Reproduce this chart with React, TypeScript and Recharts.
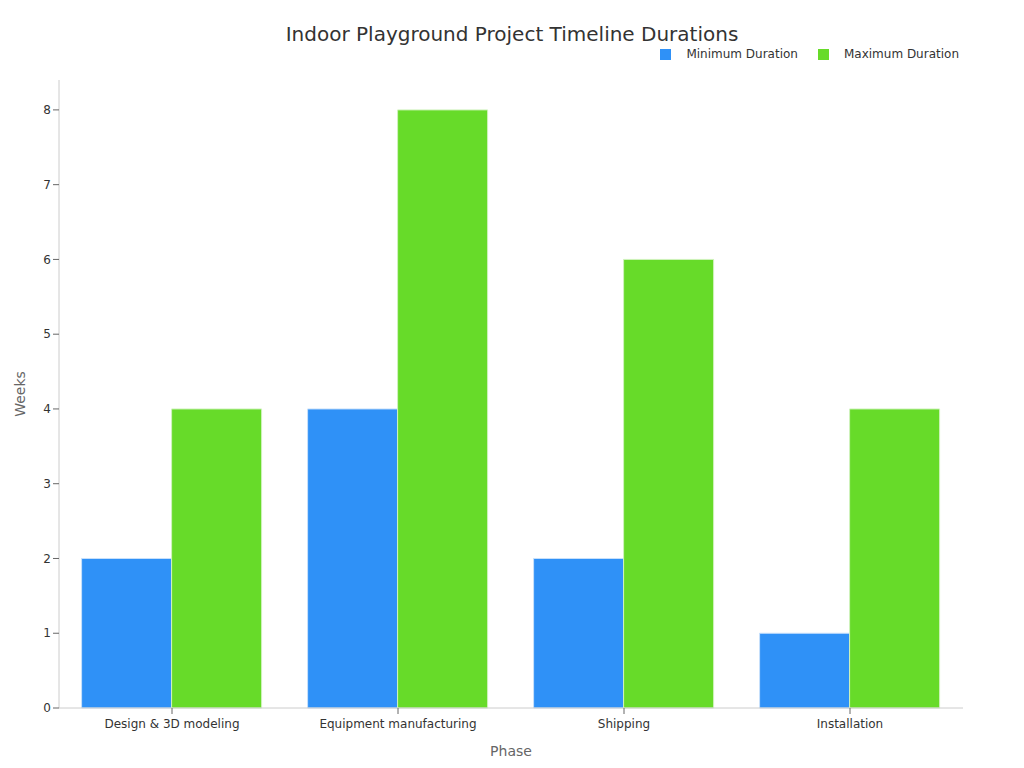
import { BarChart, Bar, XAxis, YAxis } from 'recharts'

const phases = ['Design & 3D modeling', 'Equipment manufacturing', 'Shipping', 'Installation']
const minWeeks = [2, 4, 2, 1]
const maxWeeks = [4, 8, 6, 4]
const yTicks = [0, 1, 2, 3, 4, 5, 6, 7, 8]

const data = phases.map((phase, i) => ({ phase, min: minWeeks[i], max: maxWeeks[i] }))

const series = [
  { key: 'min', name: 'Minimum Duration', color: '#2f91f7', stroke: '#c8e0fb' },
  { key: 'max', name: 'Maximum Duration', color: '#67db29', stroke: '#d0f2bd' },
]

const font = '"DejaVu Sans", sans-serif'

export default function App() {
  return (
    <div style={{ position: 'absolute', left: 0, top: 0, width: 1024, height: 768, background: '#fff', fontFamily: font }}>
      <div style={{ position: 'absolute', top: 22, width: 1024, textAlign: 'center', fontSize: 20, color: '#333' }}>
        Indoor Playground Project Timeline Durations
      </div>
      <div style={{ position: 'absolute', top: 47, right: 65, display: 'flex', fontSize: 12, color: '#333' }}>
        {series.map((s) => (
          <div key={s.key} style={{ display: 'flex', alignItems: 'center', marginLeft: 20 }}>
            <span style={{ width: 11, height: 11, background: s.color, display: 'inline-block', marginRight: 15 }} />
            <span>{s.name}</span>
          </div>
        ))}
      </div>
      <BarChart
        width={1024}
        height={768}
        data={data}
        margin={{ top: 80, right: 61, bottom: 0, left: 0 }}
        barCategoryGap="10%"
        barGap={0}
      >
        <XAxis
          dataKey="phase"
          height={60}
          stroke="#ccc"
          tick={{ fill: '#333', fontSize: 12, fontFamily: font, dy: 3 }}
          tickLine={{ stroke: '#666' }}
          label={{ value: 'Phase', position: 'insideBottom', offset: 12, fill: '#666', fontSize: 14, fontFamily: font }}
        />
        <YAxis
          width={59}
          domain={[0, 8.4]}
          ticks={yTicks}
          stroke="#ccc"
          tick={{ fill: '#333', fontSize: 12, fontFamily: font }}
          tickLine={{ stroke: '#666' }}
          label={({ viewBox }: any) => (
            <text
              x={20}
              y={viewBox.y + viewBox.height / 2}
              transform={`rotate(-90, 20, ${viewBox.y + viewBox.height / 2})`}
              textAnchor="middle"
              dominantBaseline="central"
              fill="#666"
              fontSize={14}
              fontFamily={font}
            >
              Weeks
            </text>
          )}
        />
        {series.map((s) => (
          <Bar
            key={s.key}
            dataKey={s.key}
            name={s.name}
            fill={s.color}
            stroke={s.stroke}
            strokeWidth={1}
            isAnimationActive={false}
          />
        ))}
      </BarChart>
    </div>
  )
}
